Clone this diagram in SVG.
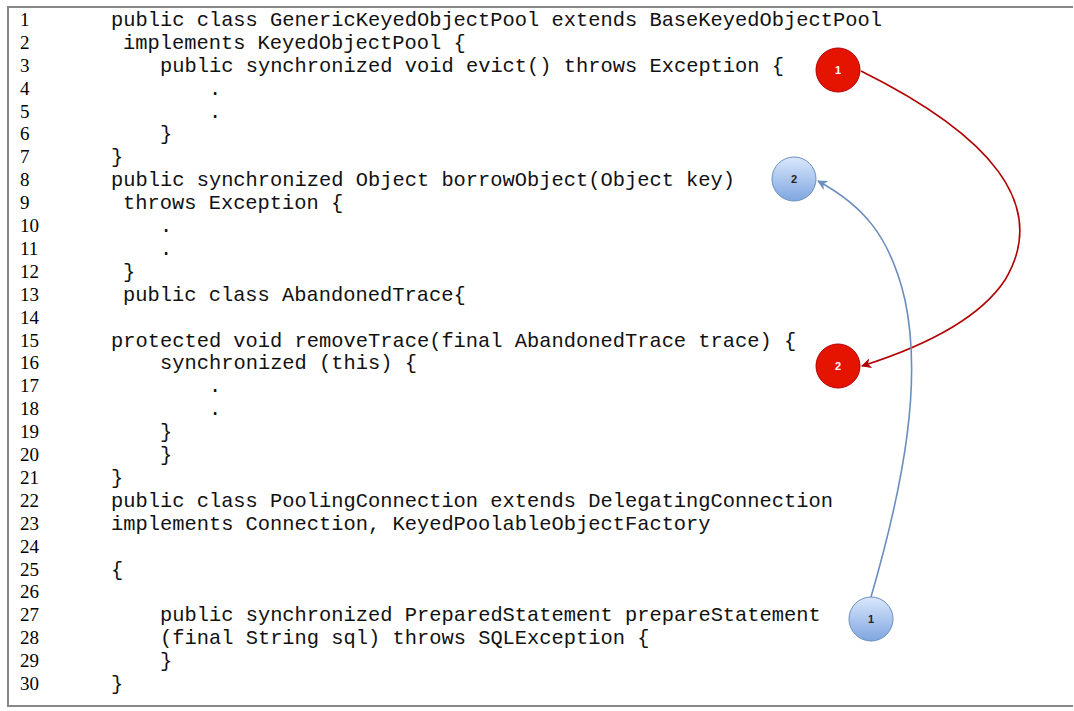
<svg xmlns="http://www.w3.org/2000/svg" width="1074" height="711" viewBox="0 0 1074 711">
<style>
.ln{font-family:"Liberation Serif",serif;font-size:19px;fill:#000}
.code{font-family:"Liberation Mono",monospace;font-size:20.4px;fill:#111;white-space:pre}
.red circle{fill:#e51400;stroke:#b20000;stroke-width:1}
.blue circle{fill:url(#bg);stroke:#6c8ebf;stroke-width:1}
.lbl{font-family:"Liberation Sans",Arial,sans-serif;font-size:11px;font-weight:bold;text-anchor:middle}
.red .lbl{fill:#fff}
.blue .lbl{fill:#222}
</style>
<defs>
<linearGradient id="bg" x1="0" y1="0" x2="0" y2="1">
<stop offset="0" stop-color="#dae8fc"/>
<stop offset="1" stop-color="#7ea6e0"/>
</linearGradient>
<marker id="ar" viewBox="0 0 10 10" refX="9" refY="5" markerWidth="6.5" markerHeight="6.5" orient="auto-start-reverse" markerUnits="strokeWidth">
<path d="M0,0 L10,5 L0,10 L3,5 Z" fill="#b20000"/>
</marker>
<marker id="ab" viewBox="0 0 10 10" refX="9" refY="5" markerWidth="6.5" markerHeight="6.5" orient="auto-start-reverse" markerUnits="strokeWidth">
<path d="M0,0 L10,5 L0,10 L3,5 Z" fill="#6c8ebf"/>
</marker>
</defs>
<rect x="0" y="0" width="1074" height="711" fill="#fff"/>
<g id="frame" fill="none" stroke="#888" stroke-width="2">
<path d="M1073,7 L8,7 L8,706 L1073,706"/>
</g>
<g id="linenumbers" class="ln">
<text x="20" y="26">1</text>
<text x="20" y="49">2</text>
<text x="20" y="72">3</text>
<text x="20" y="95">4</text>
<text x="20" y="118">5</text>
<text x="20" y="140">6</text>
<text x="20" y="163">7</text>
<text x="20" y="186">8</text>
<text x="20" y="209">9</text>
<text x="20" y="232">10</text>
<text x="20" y="255">11</text>
<text x="20" y="278">12</text>
<text x="20" y="301">13</text>
<text x="20" y="324">14</text>
<text x="20" y="347">15</text>
<text x="20" y="369">16</text>
<text x="20" y="392">17</text>
<text x="20" y="415">18</text>
<text x="20" y="438">19</text>
<text x="20" y="461">20</text>
<text x="20" y="484">21</text>
<text x="20" y="507">22</text>
<text x="20" y="530">23</text>
<text x="20" y="553">24</text>
<text x="20" y="576">25</text>
<text x="20" y="598">26</text>
<text x="20" y="621">27</text>
<text x="20" y="644">28</text>
<text x="20" y="667">29</text>
<text x="20" y="690">30</text>
</g>
<g id="code" class="code">
<text x="111" y="26">public class GenericKeyedObjectPool extends BaseKeyedObjectPool</text>
<text x="123" y="49">implements KeyedObjectPool {</text>
<text x="160" y="72">public synchronized void evict() throws Exception {</text>
<text x="209" y="95">.</text>
<text x="209" y="118">.</text>
<text x="160" y="140">}</text>
<text x="111" y="163">}</text>
<text x="111" y="186">public synchronized Object borrowObject(Object key)</text>
<text x="123" y="209">throws Exception {</text>
<text x="160" y="232">.</text>
<text x="160" y="255">.</text>
<text x="123" y="278">}</text>
<text x="123" y="301">public class AbandonedTrace{</text>
<text x="111" y="347">protected void removeTrace(final AbandonedTrace trace) {</text>
<text x="160" y="369">synchronized (this) {</text>
<text x="209" y="392">.</text>
<text x="209" y="415">.</text>
<text x="160" y="438">}</text>
<text x="160" y="461">}</text>
<text x="111" y="484">}</text>
<text x="111" y="507">public class PoolingConnection extends DelegatingConnection</text>
<text x="111" y="530">implements Connection, KeyedPoolableObjectFactory</text>
<text x="111" y="576">{</text>
<text x="160" y="621">public synchronized PreparedStatement prepareStatement</text>
<text x="160" y="644">(final String sql) throws SQLException {</text>
<text x="160" y="667">}</text>
<text x="111" y="690">}</text>
</g>
<g id="connectors" fill="none" stroke-width="1.6">
<path d="M861,71 C990,135 1050,205 1005,280 C980,318 925,346 862,366" stroke="#b20000" marker-end="url(#ar)"/>
<path d="M871,597 C905,480 922,380 905,300 C890,235 862,205 818,181" stroke="#6c8ebf" marker-end="url(#ab)"/>
</g>
<g id="red1" class="red"><circle cx="838" cy="70" r="22"/><text class="lbl" x="838" y="74">1</text></g>
<g id="red2" class="red"><circle cx="838" cy="366" r="22"/><text class="lbl" x="838" y="370">2</text></g>
<g id="blue2" class="blue"><circle cx="794" cy="179" r="22"/><text class="lbl" x="794" y="183">2</text></g>
<g id="blue1" class="blue"><circle cx="871" cy="619" r="22"/><text class="lbl" x="871" y="623">1</text></g>
</svg>
